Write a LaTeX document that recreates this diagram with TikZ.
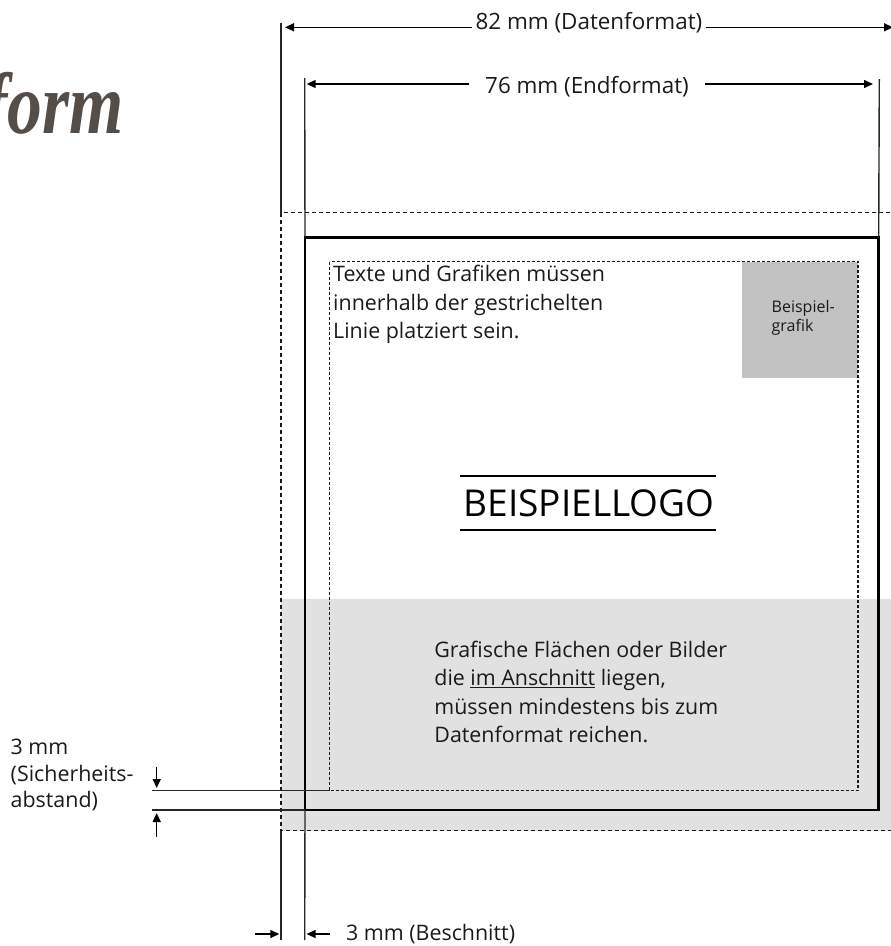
\documentclass[tikz,border=0pt]{standalone}
\usepackage{fontspec}
\setmainfont{Open Sans}
\newfontfamily\titlefont{Liberation Serif}
\usetikzlibrary{arrows.meta}
\definecolor{bleedgray}{HTML}{E1E1E1}
\definecolor{boxgray}{HTML}{C2C2C2}
\definecolor{titlecol}{HTML}{554D48}
\definecolor{extcol}{HTML}{262626}
\definecolor{inkcol}{HTML}{1A1A1A}
\newcommand{\ulfix}[1]{\setbox0=\hbox{#1}\leavevmode\rlap{\rule[-2.5pt]{\wd0}{1.2pt}}\box0\relax}
\tikzset{
  extline/.style={line width=1.4pt, draw=extcol},
  dimarrow/.style={line width=1.3pt, draw=black, -{Triangle[length=9pt,width=8pt]}},
  dimboth/.style={line width=1.3pt, draw=black, {Triangle[length=9pt,width=8pt]}-{Triangle[length=9pt,width=8pt]}},
  dimlabel/.style={fill=white, text=inkcol, inner ysep=1pt, font=\fontsize{22.4}{26}\selectfont},
  datadash/.style={line width=1.4pt, draw=inkcol, dash pattern=on 4pt off 3pt},
  safedash/.style={line width=1.1pt, draw=inkcol, dash pattern=on 3pt off 2pt},
  endrect/.style={line width=2.9pt, draw=black},
  bodytext/.style={text=inkcol, inner sep=0pt, font=\fontsize{21.4}{28.3}\selectfont},
  logoline/.style={line width=1.4pt, draw=black}
}
\begin{document}
\begin{tikzpicture}[x=1pt,y=-1pt]
\useasboundingbox (0,0) rectangle (891,946);
\clip (0,0) rectangle (891,946);

% corner coordinates
\coordinate (Dtl) at (281,212.5);
\coordinate (Dtr) at (895,212.5);
\coordinate (Dbl) at (281,830.5);
\coordinate (Dbr) at (895,830.5);
\coordinate (Etl) at (305,237.5);
\coordinate (Etr) at (878.7,237.5);
\coordinate (Ebl) at (305,810);
\coordinate (Ebr) at (878.7,810);
\coordinate (Stl) at (329.5,261.5);
\coordinate (Sbl) at (329.5,790.5);
\coordinate (Sbr) at (858,790.5);

% bleed area
\fill[bleedgray] (281,599) rectangle (Dbr);

% sample graphic
\node[fill=boxgray, minimum width=116pt, minimum height=116pt, inner sep=0pt, anchor=north east] (grafik) at (858,261.5) {};
\node[text=inkcol, font=\fontsize{16}{19}\selectfont, align=left, inner sep=0pt, anchor=north west] (grafiktext) at (771.5,300.5) {Beispiel-\\grafik};

% frames
\draw[datadash] (Dtl) rectangle (Dbr);
\draw[endrect] (Etl) rectangle (Ebr);
\draw[safedash] (Stl) rectangle (Sbr);

% extension lines
\coordinate (Dtop) at (281,22.7);
\coordinate (Dbot) at (281,940);
\coordinate (Etop) at (304.7,78);
\coordinate (Ebot) at (304.7,940);
\coordinate (Ertop) at (879.3,79);
\coordinate (Drtop) at (895,22.7);
\draw[extline] (Dtop) -- (Dtl);
\draw[extline] (Dbl) -- (Dbot);
\draw[extline] (Etop) -- (Etl);
\draw[extline] (Ebl) -- (Ebot);
\draw[extline] (Ertop) -- (Etr);
\draw[extline] (Drtop) -- (Dtr);

% width dimensions
\coordinate (A82l) at (285,27.3);
\coordinate (A82r) at (893,27.3);
\draw[dimboth] (A82l) -- (A82r) node[dimlabel, midway, anchor=base, yshift=-2.5pt, inner xsep=4pt] (t82) {82 mm (Datenformat)};
\coordinate (A76l) at (306.7,84);
\coordinate (A76r) at (873,84);
\draw[dimboth] (A76l) -- (A76r) node[dimlabel, pos=0.495, anchor=base, yshift=-9.3pt, inner xsep=16pt] (t76) {76 mm (Endformat)};

% bleed dimension (bottom)
\coordinate (Bl1) at (255,934);
\coordinate (Bl2) at (279.3,934);
\coordinate (Br1) at (329.5,934);
\coordinate (Br2) at (306.6,934);
\draw[dimarrow] (Bl1) -- (Bl2);
\draw[dimarrow] (Br1) -- (Br2);
\node[bodytext, anchor=base west] (beschnitt) at (346,940) {3 mm (Beschnitt)};

% safety distance (left)
\coordinate (Lh1) at (152,790.5);
\coordinate (Lh2) at (152,810);
\draw[extline] (Lh1) -- (Sbl);
\draw[extline] (Lh2) -- (Ebl);
\coordinate (Ld1) at (156.7,766.7);
\coordinate (Ld2) at (156.7,788);
\coordinate (Lu1) at (156.7,836.7);
\coordinate (Lu2) at (156.7,813);
\draw[dimarrow] (Ld1) -- (Ld2);
\draw[dimarrow] (Lu1) -- (Lu2);
\node[bodytext, align=left, anchor=north west, font=\fontsize{21.4}{26.5}\selectfont] (sicher) at (10.5,739) {3 mm\\(Sicherheits-\\abstand)};

% texts
\node[bodytext, align=left, anchor=north west] (hinweis) at (333,265.4) {Texte und Grafiken müssen\\innerhalb der gestrichelten\\Linie platziert sein.};
\node[bodytext, align=left, anchor=north west] (anschnitt) at (434.2,641) {Grafische Flächen oder Bilder\\die \ulfix{im Anschnitt} liegen,\\müssen mindestens bis zum\\Datenformat reichen.};

% logo
\node[text=black, inner sep=0pt, font=\fontsize{37}{37}\selectfont, anchor=base] (logo) at (589,516.7) {BEISPIELLOGO};
\coordinate (Lg1) at (460,476);
\coordinate (Lg2) at (716,476);
\coordinate (Lg3) at (460,530);
\coordinate (Lg4) at (716,530);
\draw[logoline] (Lg1) -- (Lg2);
\draw[logoline] (Lg3) -- (Lg4);

% title fragment
\node[text=titlecol, inner sep=0pt, font=\titlefont\bfseries\itshape\fontsize{87}{87}\selectfont, anchor=base east, xscale=0.8] (title) at (124,133) {form};
\end{tikzpicture}
\end{document}
